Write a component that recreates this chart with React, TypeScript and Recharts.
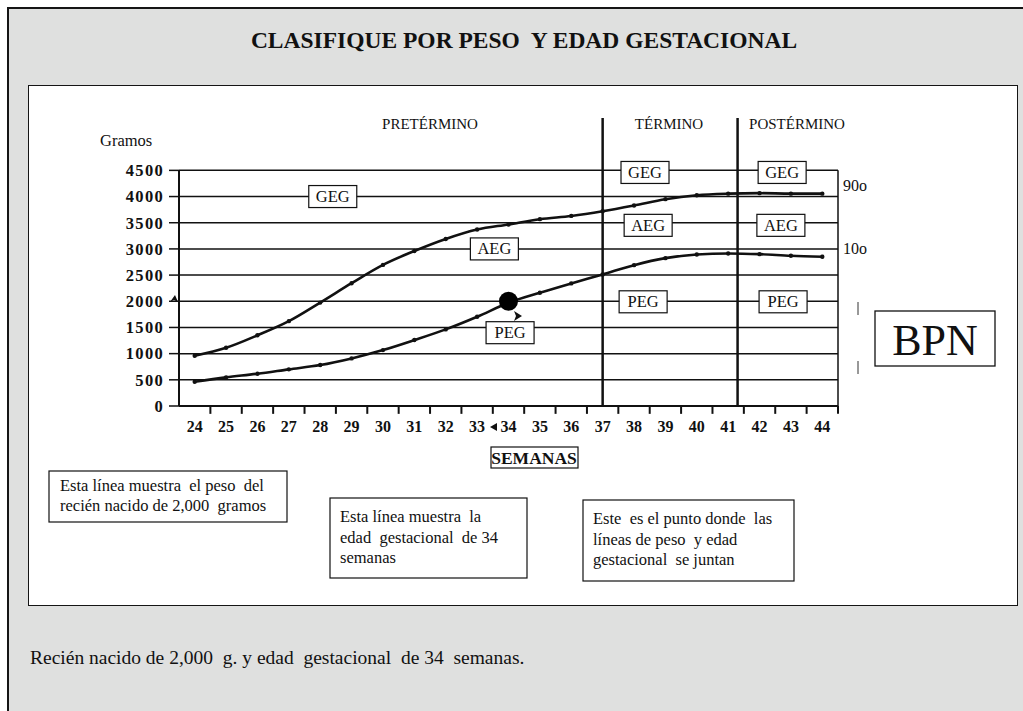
import React from 'react';
import { ComposedChart, Line, XAxis, YAxis, ReferenceLine, ReferenceDot } from 'recharts';

const weeks = [24, 25, 26, 27, 28, 29, 30, 31, 32, 33, 34, 35, 36, 37, 38, 39, 40, 41, 42, 43, 44];
const p90 = [960, 1112, 1350, 1620, 1975, 2345, 2695, 2960, 3190, 3370, 3467, 3568, 3630, 3720, 3830, 3950, 4025, 4055, 4065, 4055, 4055];
const p10 = [464, 547, 616, 700, 782, 909, 1068, 1259, 1463, 1704, 1971, 2162, 2341, 2512, 2690, 2824, 2894, 2913, 2900, 2868, 2849];
const yTicks = [0, 500, 1000, 1500, 2000, 2500, 3000, 3500, 4000, 4500];
const gridValues = [500, 1000, 1500, 2000, 2500, 3000, 3500, 4000, 4500];
const weekEdges = [24.5, 25.5, 26.5, 27.5, 28.5, 29.5, 30.5, 31.5, 32.5, 33.5, 34.5, 35.5, 36.5, 37.5, 38.5, 39.5, 40.5, 41.5, 42.5, 43.5, 44.5];
const xStart = 23.5;
const xEnd = 44.5;
const yTop = 4500;
const tickDepth = -150;
const periodLines = [37, 41.3];
const caseWeek = 34;
const caseWeight = 2000;
const zoneBoxes = [
  { w: 28.4, g: 4000, t: 'GEG' },
  { w: 33.55, g: 3000, t: 'AEG' },
  { w: 34.05, g: 1400, t: 'PEG' },
  { w: 38.35, g: 4460, t: 'GEG' },
  { w: 42.72, g: 4460, t: 'GEG' },
  { w: 38.45, g: 3450, t: 'AEG' },
  { w: 42.68, g: 3450, t: 'AEG' },
  { w: 38.29, g: 1990, t: 'PEG' },
  { w: 42.75, g: 1990, t: 'PEG' },
];

const rows = weeks.map((w, i) => ({ week: w, p90: p90[i], p10: p10[i] }));

const SERIF = "'Liberation Serif', 'Times New Roman', serif";
const GRAY = '#dfe0df';
const INK = '#111';

function ZoneBox(label: string) {
  return (props: any) => {
    const { cx, cy } = props;
    return (
      <g>
        <rect x={cx - 24} y={cy - 11} width={48} height={22} fill="#fff" stroke={INK} strokeWidth={1.2} />
        <text x={cx} y={cy + 5.5} textAnchor="middle" fontFamily={SERIF} fontSize={16.5} fill={INK}>{label}</text>
      </g>
    );
  };
}

export default function App() {
  const pre = { whiteSpace: 'pre' as const };
  return (
    <div style={{ position: 'absolute', left: 0, top: 0, width: 1023, height: 711, background: '#fff', overflow: 'hidden' }}>
      <div style={{ position: 'absolute', left: 7, top: 7, width: 1040, height: 740, background: GRAY, borderLeft: '2.5px solid #151515', borderTop: '2.5px solid #151515', boxSizing: 'border-box' }} />
      <div style={{ position: 'absolute', left: 28, top: 85, width: 990, height: 521, background: '#fff', border: '1.6px solid #151515', boxSizing: 'border-box' }} />
      <div style={{ position: 'absolute', left: 0, top: 0 }}>
        <ComposedChart width={1023} height={711} data={rows} margin={{ top: 118, right: 185, bottom: 275, left: 119 }}>
          <XAxis type="number" dataKey="week" domain={[xStart, xEnd]} ticks={weeks} interval={0} height={30}
            axisLine={{ stroke: INK, strokeWidth: 2 }} tickLine={false} tickSize={0} tickMargin={15}
            tick={{ fontFamily: SERIF, fontSize: 16, fontWeight: 'bold', fill: INK }} />
          <YAxis type="number" domain={[0, 5500]} ticks={yTicks} interval={0} width={60} axisLine={false}
            tickSize={10} tickMargin={5} tickLine={{ stroke: INK, strokeWidth: 1.5 }}
            tick={{ fontFamily: SERIF, fontSize: 16.5, fontWeight: 'bold', fill: INK, letterSpacing: 1.3 }} />
          {gridValues.map((v) => (
            <ReferenceLine key={'g' + v} y={v} stroke={INK} strokeWidth={1.5} />
          ))}
          <ReferenceLine segment={[{ x: xStart, y: 0 }, { x: xStart, y: yTop }]} stroke={INK} strokeWidth={2} />
          <ReferenceLine segment={[{ x: xEnd, y: 0 }, { x: xEnd, y: yTop }]} stroke={INK} strokeWidth={1.5} />
          {weekEdges.map((e) => (
            <ReferenceLine key={'e' + e} segment={[{ x: e, y: 0 }, { x: e, y: tickDepth }]} ifOverflow="visible" stroke={INK} strokeWidth={2} />
          ))}
          {periodLines.map((x) => (
            <ReferenceLine key={'p' + x} x={x} stroke={INK} strokeWidth={2.5} />
          ))}
          <Line dataKey="p90" type="monotone" stroke={INK} strokeWidth={2.6} dot={{ r: 0.9, fill: INK, stroke: INK }} isAnimationActive={false} />
          <Line dataKey="p10" type="monotone" stroke={INK} strokeWidth={2.6} dot={{ r: 0.9, fill: INK, stroke: INK }} isAnimationActive={false} />
          {zoneBoxes.map((b, i) => (
            <ReferenceDot key={i} x={b.w} y={b.g} r={1} shape={ZoneBox(b.t)} />
          ))}
          <ReferenceDot x={caseWeek} y={caseWeight} r={9.5} fill="#000" stroke="none" />
        </ComposedChart>
      </div>
      <svg width={1023} height={711} style={{ position: 'absolute', left: 0, top: 0, pointerEvents: 'none' }} fontFamily={SERIF} fill={INK}>
        <text x={524} y={48} textAnchor="middle" fontSize={23.5} fontWeight="bold" style={pre}>CLASIFIQUE POR PESO  Y EDAD GESTACIONAL</text>
        <text x={100} y={146} fontSize={16.5}>Gramos</text>
        <text x={430} y={129} textAnchor="middle" fontSize={15}>PRETÉRMINO</text>
        <text x={669} y={129} textAnchor="middle" fontSize={15}>TÉRMINO</text>
        <text x={797} y={129} textAnchor="middle" fontSize={15}>POSTÉRMINO</text>
        <text x={843} y={191} fontSize={16}>90o</text>
        <text x={843} y={254} fontSize={16}>10o</text>
        <line x1={858} y1={302} x2={858} y2={315} stroke="#333" strokeWidth={1} />
        <line x1={858} y1={361} x2={858} y2={374} stroke="#333" strokeWidth={1} />
        <rect x={875} y={311} width={120} height={55} fill="#fff" stroke={INK} strokeWidth={1.3} />
        <text x={935} y={355} textAnchor="middle" fontSize={44}>BPN</text>
        <polygon points="170,302 175,295 178,302 174,300" fill={INK} />
        <polygon points="514,311 522,316 514,321 516,316" fill={INK} />
        <polygon points="490,427 497,423 497,431" fill={INK} />
        <rect x={491} y={447} width={87} height={21} fill="#fff" stroke={INK} strokeWidth={1.2} />
        <text x={534} y={464} textAnchor="middle" fontSize={17.5} fontWeight="bold">SEMANAS</text>
        <rect x={49} y={471} width={238} height={51} fill="#fff" stroke={INK} strokeWidth={1.2} />
        <text x={60} y={491} fontSize={16.5} style={pre}>Esta línea muestra  el peso  del</text>
        <text x={60} y={511} fontSize={16.5} style={pre}>recién nacido de 2,000  gramos</text>
        <rect x={330} y={498} width={197} height={80} fill="#fff" stroke={INK} strokeWidth={1.2} />
        <text x={340} y={522} fontSize={16.5} style={pre}>Esta línea muestra  la</text>
        <text x={340} y={543} fontSize={16.5} style={pre}>edad  gestacional  de 34</text>
        <text x={340} y={563} fontSize={16.5} style={pre}>semanas</text>
        <rect x={583} y={500} width={211} height={81} fill="#fff" stroke={INK} strokeWidth={1.2} />
        <text x={593} y={524} fontSize={16.5} style={pre}>Este  es el punto donde  las</text>
        <text x={593} y={545} fontSize={16.5} style={pre}>líneas de peso  y edad</text>
        <text x={593} y={565} fontSize={16.5} style={pre}>gestacional  se juntan</text>
        <text x={30} y={664} fontSize={19.5} style={pre}>Recién nacido de 2,000  g. y edad  gestacional  de 34  semanas.</text>
      </svg>
    </div>
  );
}
